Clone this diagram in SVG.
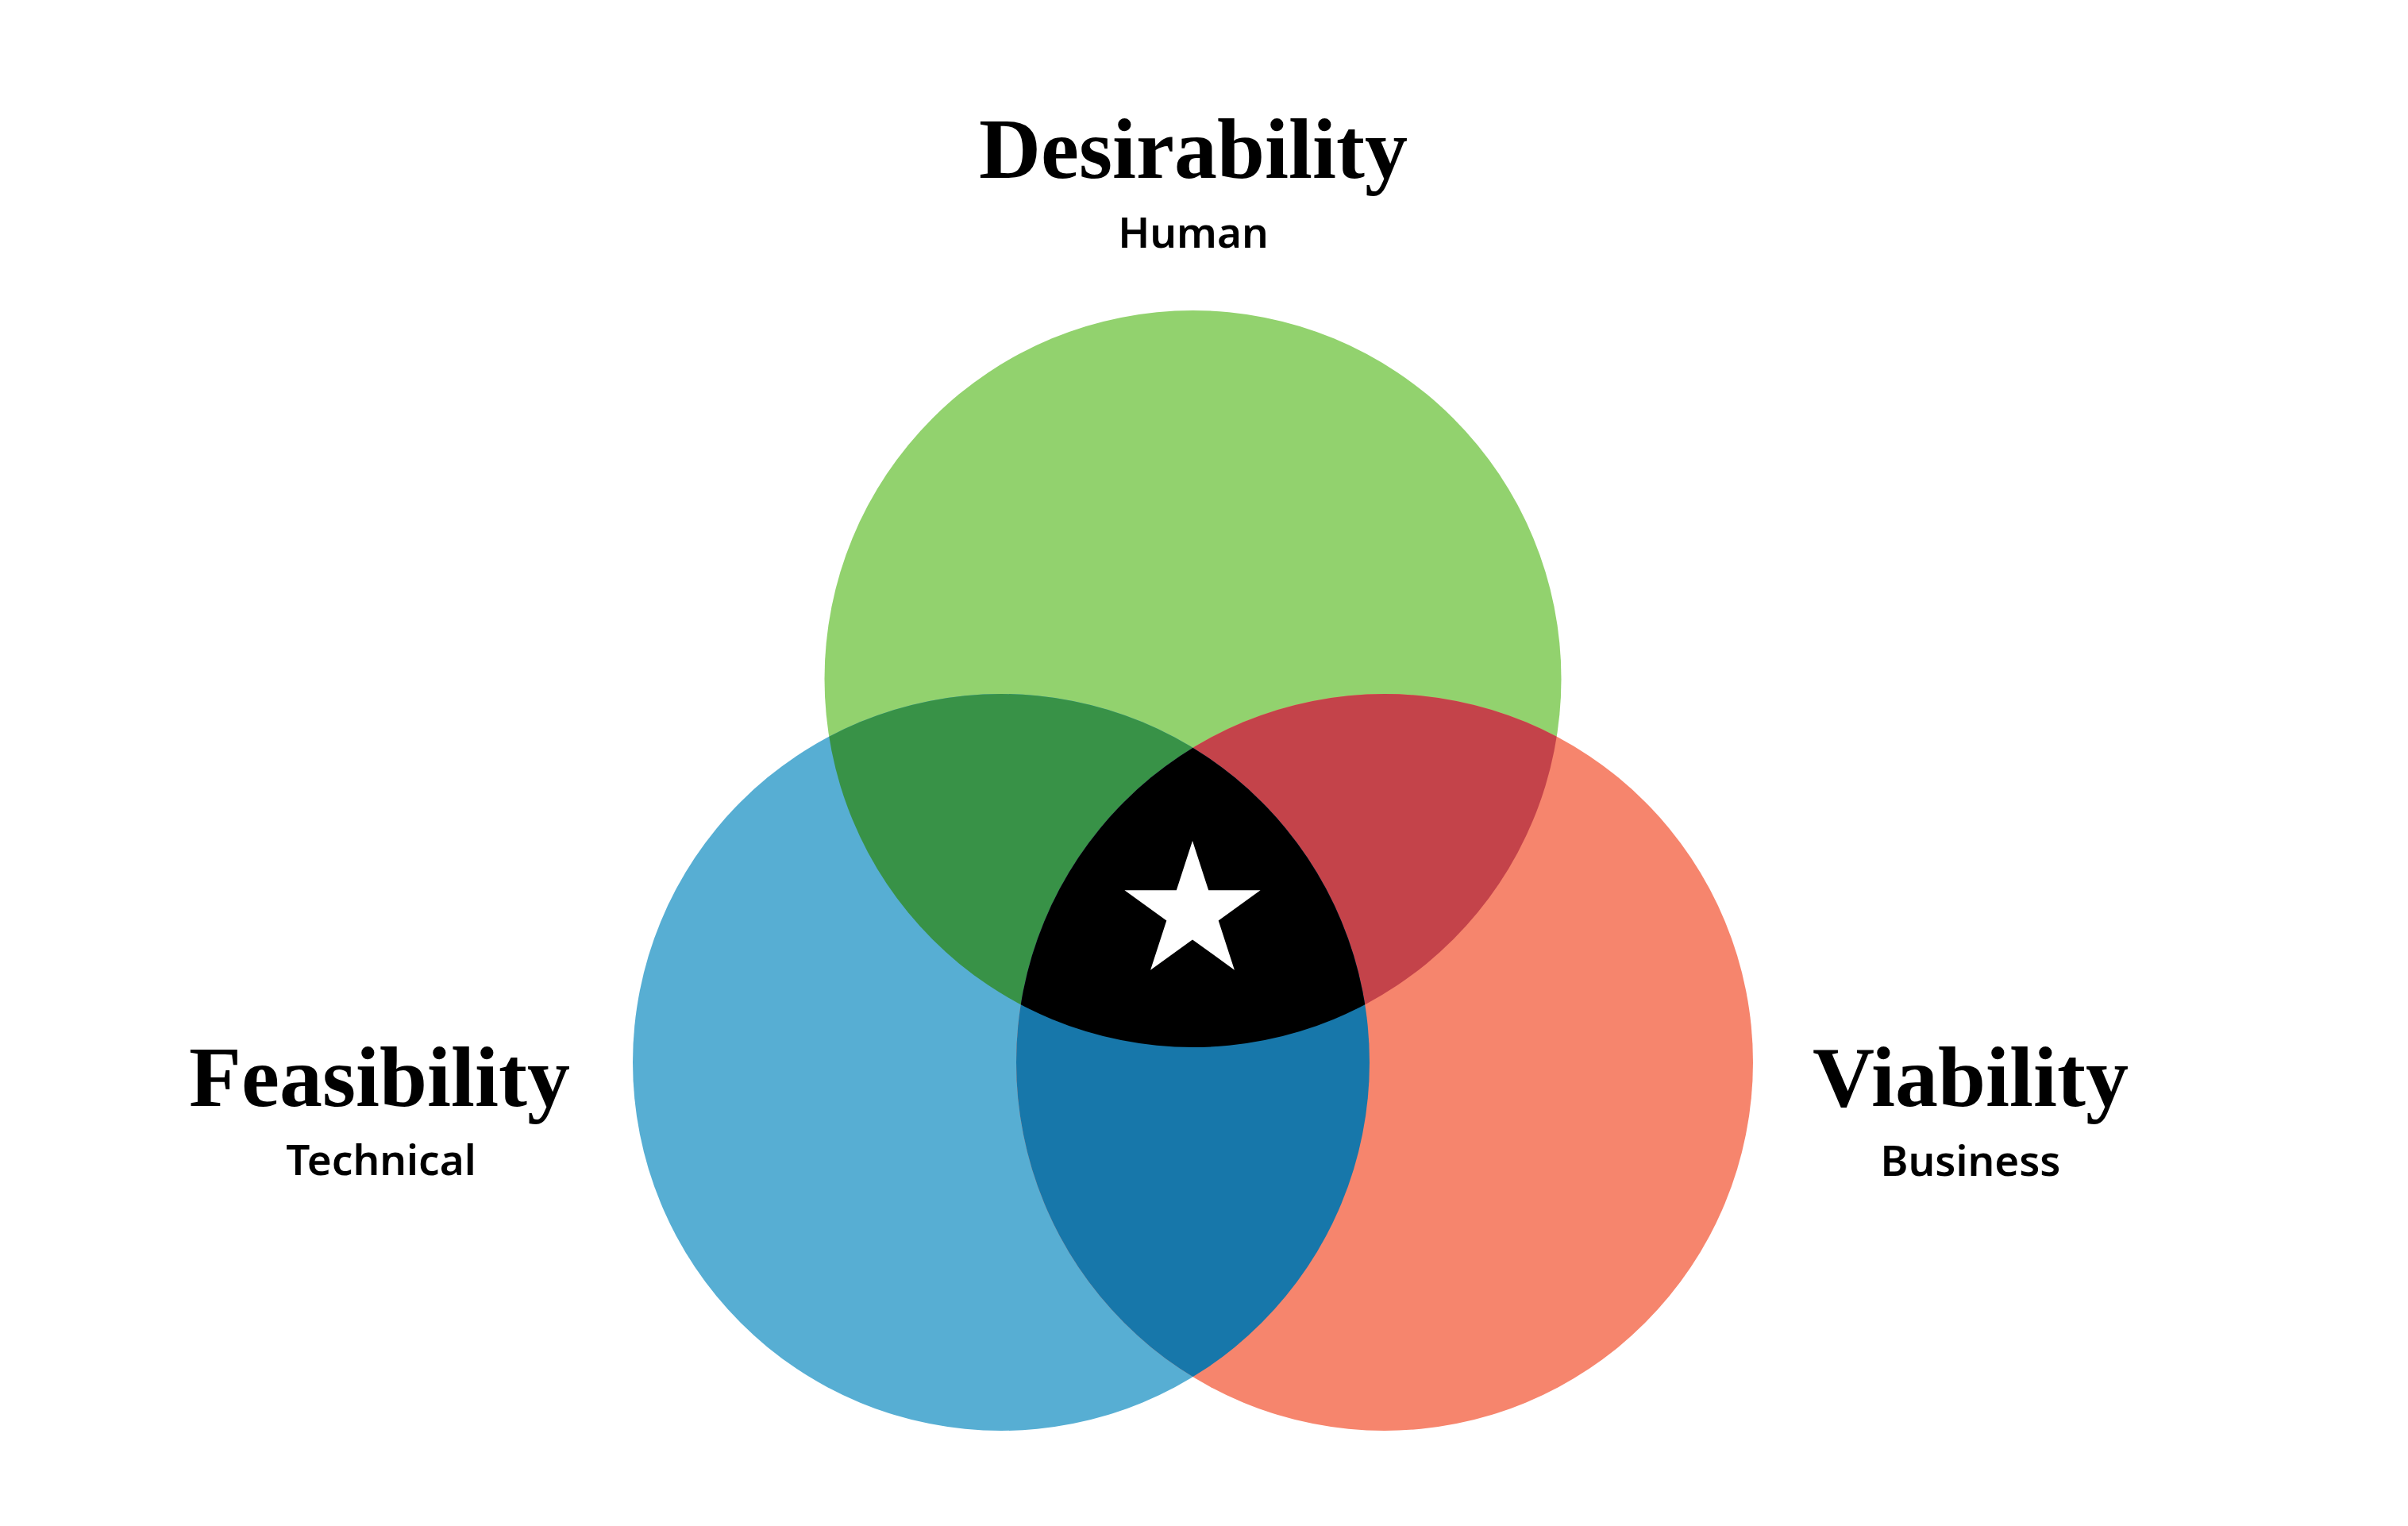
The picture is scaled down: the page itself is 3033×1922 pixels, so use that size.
<svg xmlns="http://www.w3.org/2000/svg" width="3033" height="1922" viewBox="0 0 3033 1922">
<style>
.title{font-family:"Liberation Serif","Times New Roman",serif;font-weight:bold;font-size:108px;fill:#000;text-anchor:middle}
.sub{font-family:"Noto Sans","Open Sans",sans-serif;font-weight:600;font-size:53px;fill:#000;text-anchor:middle}
</style>
<defs>
<clipPath id="clipG"><circle cx="1502.5" cy="855" r="464"/></clipPath>
<clipPath id="clipB"><circle cx="1261" cy="1338" r="464"/></clipPath>
<clipPath id="clipR"><circle cx="1744" cy="1338" r="464"/></clipPath>
</defs>
<rect width="3033" height="1922" fill="#fff"/>
<g id="desirability">
<circle cx="1502.5" cy="855" r="464" fill="#92D26E"/>
<text class="title" x="1503" y="224">Desirability</text>
<text class="sub" x="1503" y="312">Human</text>
</g>
<g id="feasibility">
<circle cx="1261" cy="1338" r="464" fill="#57AED3"/>
<text class="title" x="478" y="1393">Feasibility</text>
<text class="sub" x="480" y="1480">Technical</text>
</g>
<g id="viability">
<circle cx="1744" cy="1338" r="464" fill="#F6856D"/>
<text class="title" x="2482" y="1393">Viability</text>
<text class="sub" x="2482" y="1481">Business</text>
</g>
<g id="overlaps">
<g clip-path="url(#clipG)"><circle cx="1261" cy="1338" r="464" fill="#389247"/></g>
<g clip-path="url(#clipG)"><circle cx="1744" cy="1338" r="464" fill="#C4434A"/></g>
<g clip-path="url(#clipB)"><circle cx="1744" cy="1338" r="464" fill="#1777AA"/></g>
<g clip-path="url(#clipG)"><g clip-path="url(#clipB)"><circle cx="1744" cy="1338" r="464" fill="#000"/></g></g>
</g>
<g id="star">
<polygon fill="#fff" points="1502,1059 1522.2,1121.2 1587.6,1121.2 1534.7,1159.6 1554.9,1221.8 1502,1183.4 1449.1,1221.8 1469.3,1159.6 1416.4,1121.2 1481.8,1121.2"/>
</g>
<g id="connectors"/>
</svg>
